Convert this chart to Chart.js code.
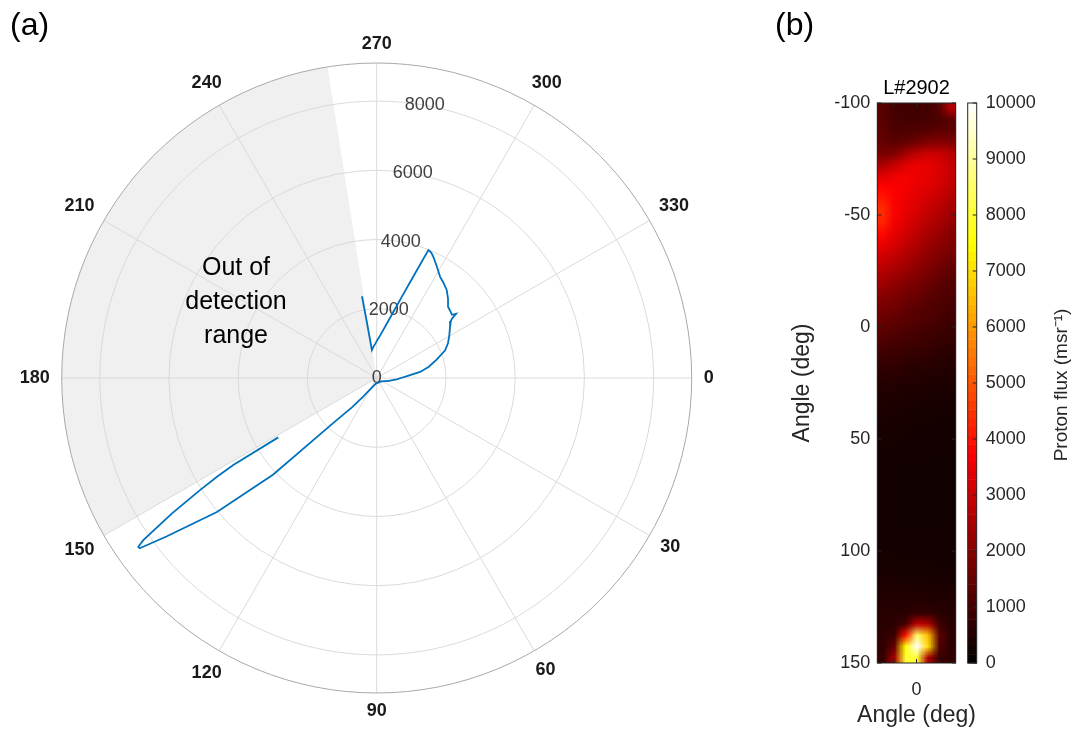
<!DOCTYPE html>
<html>
<head>
<meta charset="utf-8">
<script src="https://cdn.jsdelivr.net/npm/chart.js@4/dist/chart.umd.min.js"></script>
<style>
  body { margin: 0; background: #fff; width: 1076px; height: 729px; overflow: hidden; position: relative; }
  canvas { position: absolute; top: 0; }
  #polare { left: 0; }
  #mappa { left: 760px; }
</style>
</head>
<body>
<canvas id="polare" width="760" height="729"></canvas>
<canvas id="mappa" width="316" height="729"></canvas>
<script>
Chart.defaults.font.family = "'Liberation Sans', Arial, Helvetica, sans-serif";
Chart.defaults.animation = false;

var gradi = Math.PI / 180;
var fontBase = "'Liberation Sans', Arial, Helvetica, sans-serif";

// dati curva polare (a): angolo in gradi, flusso
var angoli = [259.8, 260.0, 260.2, 262, 265, 268, 271, 275, 280, 284, 287, 290, 292, 293.5, 295, 298, 302, 305, 308.5, 312,
  315, 318, 320, 321, 321.8, 322.5, 325, 330, 334, 338, 343, 348, 352, 356, 0, 4, 8, 15, 25, 40,
  55, 70, 85, 100, 115, 122, 126, 130, 134, 137, 140, 143, 144.3, 144.7, 145.2, 146.5, 147.6, 148.3, 148.75, 148.9];
var flusso = [2400, 1650, 820, 860, 930, 1000, 1100, 1250, 1555, 1950, 2420, 3165, 3985, 3950, 3866, 3680, 3453, 3360, 3249, 3080,
  2914, 2870, 2840, 2950, 2760, 2700, 2587, 2420, 2290, 2133, 1810, 1530, 1265, 900, 700, 580, 460, 338, 220, 160,
  150, 140, 150, 170, 280, 450, 677, 1100, 1813, 4098, 6026, 7607, 8428, 8440, 8211, 7100, 6046, 5400, 4847, 3321];

var rMax = 9100;
var anelliR = [2000, 4000, 6000, 8000];
var etichetteR = [0, 2000, 4000, 6000, 8000];
var angoloEtichetteR = 280;
var angoliGriglia = [0, 30, 60, 90, 120, 150, 180, 210, 240, 270, 300, 330];
var zonaCieca = [150, 261];
var testoZona = ["Out of", "detection", "range"];
var posTestoZona = [208.4, 4620];

// dati mappa (b): righe da -100 a 150 gradi (passo 5), colonne da -17.5 a 17.5
var limitiX = [-17.5, 17.5];
var limitiY = [-100, 150];
var colonneAngolo = [-15, -10, -5, 0, 5, 10, 15];
var tickX = [-10, 0, 10];
var maxFlusso = 10000;
var mappaFlusso = [
  [1300, 1000, 950, 950, 1000, 1300, 2600],
  [1300, 1050, 1000, 1000, 1050, 1100, 1300],
  [1400, 1150, 1150, 1200, 1300, 1400, 1400],
  [1500, 1350, 1500, 1700, 1900, 2000, 1900],
  [1800, 1900, 2400, 2800, 3000, 3000, 2700],
  [2500, 2900, 3300, 3500, 3400, 3200, 2900],
  [3300, 3500, 3600, 3500, 3400, 3200, 2900],
  [3800, 3700, 3600, 3400, 3300, 3100, 2800],
  [4100, 3700, 3500, 3300, 3100, 2900, 2600],
  [4400, 3700, 3400, 3200, 2900, 2700, 2400],
  [4300, 3600, 3300, 3000, 2700, 2500, 2200],
  [3900, 3400, 3100, 2800, 2500, 2300, 2000],
  [3500, 3200, 2900, 2600, 2300, 2100, 1900],
  [3100, 2900, 2600, 2400, 2100, 1900, 1700],
  [2800, 2600, 2400, 2100, 1900, 1700, 1500],
  [2500, 2300, 2100, 1900, 1700, 1500, 1300],
  [2200, 2000, 1800, 1700, 1500, 1300, 1200],
  [1900, 1800, 1600, 1500, 1300, 1200, 1100],
  [1700, 1600, 1400, 1300, 1200, 1100, 1000],
  [1500, 1400, 1300, 1200, 1100, 1000, 900],
  [1300, 1200, 1100, 1000, 950, 900, 800],
  [1100, 1000, 950, 900, 850, 750, 700],
  [900, 850, 800, 750, 700, 650, 600],
  [750, 700, 650, 600, 600, 550, 500],
  [600, 600, 550, 500, 500, 450, 450],
  [500, 500, 450, 450, 400, 400, 400],
  [450, 450, 400, 400, 380, 380, 350],
  [400, 400, 380, 350, 350, 330, 330],
  [380, 360, 350, 330, 320, 310, 300],
  [350, 340, 330, 310, 300, 290, 280],
  [330, 320, 300, 290, 280, 270, 270],
  [300, 300, 290, 280, 270, 260, 260],
  [290, 280, 270, 260, 260, 250, 250],
  [280, 270, 260, 250, 250, 250, 250],
  [270, 260, 250, 250, 250, 250, 250],
  [270, 260, 250, 250, 250, 250, 250],
  [270, 260, 260, 250, 250, 250, 250],
  [280, 270, 260, 260, 260, 260, 260],
  [290, 280, 270, 270, 270, 270, 270],
  [300, 290, 290, 280, 280, 280, 280],
  [330, 320, 310, 310, 310, 300, 300],
  [360, 350, 340, 340, 340, 330, 330],
  [400, 390, 380, 380, 380, 370, 360],
  [450, 450, 450, 450, 440, 430, 420],
  [520, 520, 530, 540, 520, 500, 480],
  [580, 590, 620, 700, 700, 600, 540],
  [620, 660, 1000, 2800, 2600, 900, 600],
  [660, 850, 4000, 8500, 6500, 1400, 640],
  [700, 1500, 7500, 10000, 7000, 1200, 680],
  [740, 2500, 8000, 8000, 2500, 850, 700]
];

// mappa di colori "hot"
function caldo(v) {
  var t = Math.max(0, Math.min(1, v / maxFlusso));
  var r = Math.min(1, t / 0.375);
  var g = Math.max(0, Math.min(1, (t - 0.375) / 0.375));
  var b = Math.max(0, Math.min(1, (t - 0.75) / 0.25));
  return [Math.round(r * 255), Math.round(g * 255), Math.round(b * 255)];
}

// ---------- grafico polare (a) ----------

var puntiPolari = angoli.map(function (a, i) {
  return { x: flusso[i] * Math.cos(a * gradi), y: flusso[i] * Math.sin(a * gradi) };
});

var grigliaPolare = {
  id: "grigliaPolare",
  beforeDatasetsDraw: function (chart) {
    var ctx = chart.ctx;
    var sx = chart.scales.x, sy = chart.scales.y;
    var cx = sx.getPixelForValue(0), cy = sy.getPixelForValue(0);
    var raggio = function (v) { return sx.getPixelForValue(v) - cx; };
    var R = raggio(rMax);
    ctx.save();

    // zona fuori dal rivelatore
    ctx.beginPath();
    ctx.moveTo(cx, cy);
    ctx.arc(cx, cy, R, zonaCieca[0] * gradi, zonaCieca[1] * gradi);
    ctx.closePath();
    ctx.fillStyle = "#f0f0f0";
    ctx.fill();

    ctx.strokeStyle = "#dadada";
    ctx.lineWidth = 1;
    anelliR.forEach(function (v) {
      ctx.beginPath();
      ctx.arc(cx, cy, raggio(v), 0, 2 * Math.PI);
      ctx.stroke();
    });
    angoliGriglia.forEach(function (a) {
      ctx.beginPath();
      ctx.moveTo(cx, cy);
      ctx.lineTo(cx + R * Math.cos(a * gradi), cy + R * Math.sin(a * gradi));
      ctx.stroke();
    });
    ctx.strokeStyle = "#a8a8a8";
    ctx.beginPath();
    ctx.arc(cx, cy, R, 0, 2 * Math.PI);
    ctx.stroke();

    // etichette degli angoli
    ctx.font = "bold 18px " + fontBase;
    ctx.fillStyle = "#1a1a1a";
    ctx.textAlign = "center";
    ctx.textBaseline = "middle";
    angoliGriglia.forEach(function (a) {
      var testo = String(a);
      var w = ctx.measureText(testo).width;
      var c = Math.cos(a * gradi), s = Math.sin(a * gradi);
      var d = R + 12 + Math.abs(c) * w / 2 + Math.abs(s) * 6.5;
      ctx.fillText(testo, cx + d * c, cy + d * s);
    });

    // etichette del raggio
    ctx.font = "18px " + fontBase;
    ctx.fillStyle = "#404040";
    etichetteR.forEach(function (v) {
      var r = raggio(v);
      ctx.fillText(String(v), cx + r * Math.cos(angoloEtichetteR * gradi), cy + r * Math.sin(angoloEtichetteR * gradi));
    });

    // scritta zona cieca
    ctx.font = "25px " + fontBase;
    ctx.fillStyle = "#000";
    var rt = raggio(posTestoZona[1]);
    var tx = cx + rt * Math.cos(posTestoZona[0] * gradi);
    var ty = cy + rt * Math.sin(posTestoZona[0] * gradi);
    testoZona.forEach(function (riga, i) {
      ctx.fillText(riga, tx, ty + (i - 1) * 34);
    });

    ctx.restore();
  },
  afterDraw: function (chart) {
    var ctx = chart.ctx;
    ctx.save();
    ctx.font = "32px " + fontBase;
    ctx.fillStyle = "#000";
    ctx.textAlign = "left";
    ctx.textBaseline = "alphabetic";
    ctx.fillText("(a)", 10, 35);
    ctx.restore();
  }
};

var graficoPolare = new Chart(document.getElementById("polare"), {
  type: "scatter",
  data: {
    datasets: [
      {
        data: puntiPolari,
        showLine: true,
        borderColor: "#0072BD",
        borderWidth: 1.8,
        pointRadius: 0,
        tension: 0,
        fill: false
      }
    ]
  },
  options: {
    responsive: false,
    layout: { padding: { left: 61.7, right: 68.3, top: 63, bottom: 36 } },
    plugins: { legend: { display: false }, tooltip: { enabled: false } },
    scales: {
      x: { type: "linear", min: -rMax, max: rMax, display: false },
      y: { type: "linear", min: -rMax, max: rMax, reverse: true, display: false }
    }
  },
  plugins: [grigliaPolare]
});

// ---------- mappa del flusso (b) ----------

var coloreTesto = "#262626";

var mappaCalore = {
  id: "mappaCalore",
  beforeDatasetsDraw: function (chart) {
    var ctx = chart.ctx, sx = chart.scales.x, sy = chart.scales.y;
    var nx = colonneAngolo.length, ny = mappaFlusso.length;
    var img = document.createElement("canvas");
    img.width = nx;
    img.height = ny;
    var ic = img.getContext("2d");
    var pix = ic.createImageData(nx, ny);
    mappaFlusso.forEach(function (riga, j) {
      riga.forEach(function (v, i) {
        var c = caldo(v), k = (j * nx + i) * 4;
        pix.data[k] = c[0];
        pix.data[k + 1] = c[1];
        pix.data[k + 2] = c[2];
        pix.data[k + 3] = 255;
      });
    });
    ic.putImageData(pix, 0, 0);
    var x0 = sx.getPixelForValue(limitiX[0]), x1 = sx.getPixelForValue(limitiX[1]);
    var y0 = sy.getPixelForValue(limitiY[0]), y1 = sy.getPixelForValue(limitiY[1]);
    ctx.save();
    ctx.imageSmoothingEnabled = true;
    ctx.drawImage(img, x0, y0, x1 - x0, y1 - y0);
    ctx.restore();
  },
  afterDraw: function (chart) {
    var ctx = chart.ctx, area = chart.chartArea;
    var sx = chart.scales.x, sy = chart.scales.y, cb = chart.scales.cb;
    ctx.save();

    // cornice e tacche interne
    ctx.strokeStyle = coloreTesto;
    ctx.lineWidth = 1;
    ctx.strokeRect(area.left, area.top, area.right - area.left, area.bottom - area.top);
    ctx.beginPath();
    sy.ticks.forEach(function (t) {
      var y = sy.getPixelForValue(t.value);
      ctx.moveTo(area.left, y); ctx.lineTo(area.left + 4, y);
      ctx.moveTo(area.right, y); ctx.lineTo(area.right - 4, y);
    });
    tickX.forEach(function (v) {
      var x = sx.getPixelForValue(v);
      ctx.moveTo(x, area.top); ctx.lineTo(x, area.top + 4);
      ctx.moveTo(x, area.bottom); ctx.lineTo(x, area.bottom - 4);
    });
    ctx.stroke();

    // barra dei colori
    var bx0 = area.right + 12, bx1 = area.right + 21;
    var passi = 64;
    for (var k = 0; k < passi; k++) {
      var c = caldo((k + 0.5) / passi * maxFlusso);
      var ya = cb.getPixelForValue(k / passi * maxFlusso);
      var yb = cb.getPixelForValue((k + 1) / passi * maxFlusso);
      ctx.fillStyle = "rgb(" + c[0] + "," + c[1] + "," + c[2] + ")";
      ctx.fillRect(bx0, yb, bx1 - bx0, ya - yb + 0.5);
    }
    ctx.strokeRect(bx0, area.top, bx1 - bx0, area.bottom - area.top);
    ctx.beginPath();
    cb.ticks.forEach(function (t) {
      var y = cb.getPixelForValue(t.value);
      ctx.moveTo(bx1, y); ctx.lineTo(bx1 - 4, y);
    });
    ctx.stroke();

    // titolo barra
    ctx.fillStyle = coloreTesto;
    ctx.font = "19px " + fontBase;
    ctx.textAlign = "center";
    ctx.textBaseline = "middle";
    ctx.translate(area.right + 106, (area.top + area.bottom) / 2 + 2);
    ctx.rotate(-Math.PI / 2);
    ctx.fillText("Proton flux (msr\u207B\u00B9)", 0, 0);
    ctx.setTransform(1, 0, 0, 1, 0, 0);

    // titolo asse x
    ctx.font = "23px " + fontBase;
    ctx.fillText("Angle (deg)", (area.left + area.right) / 2, 716);

    // titolo mappa
    ctx.fillStyle = "#000";
    ctx.font = "20px " + fontBase;
    ctx.fillText("L#2902", (area.left + area.right) / 2, area.top - 15);

    ctx.textAlign = "left";
    ctx.textBaseline = "alphabetic";
    ctx.font = "32px " + fontBase;
    ctx.fillText("(b)", 15, 35);
    ctx.restore();
  }
};

var graficoMappa = new Chart(document.getElementById("mappa"), {
  type: "scatter",
  data: { datasets: [{ data: [], pointRadius: 0 }] },
  options: {
    responsive: false,
    layout: { padding: { left: 20, right: 0, top: 103, bottom: 0 } },
    plugins: { legend: { display: false }, tooltip: { enabled: false } },
    scales: {
      x: {
        type: "linear",
        min: limitiX[0],
        max: limitiX[1],
        grid: { display: false, drawTicks: false },
        border: { display: false },
        afterBuildTicks: function (scale) {
          scale.ticks = tickX.map(function (v) { return { value: v }; });
        },
        afterFit: function (scale) { scale.height = 66; },
        ticks: {
          autoSkip: false,
          maxRotation: 0,
          padding: 16,
          color: coloreTesto,
          font: { size: 18 },
          callback: function (v) { return v === 0 ? "0" : ""; }
        }
      },
      y: {
        type: "linear",
        position: "left",
        min: limitiY[0],
        max: limitiY[1],
        reverse: true,
        grid: { display: false, drawTicks: false },
        border: { display: false },
        afterFit: function (scale) { scale.width = 97.3; },
        ticks: { stepSize: 50, padding: 7, color: coloreTesto, font: { size: 18 } },
        title: {
          display: true,
          text: "Angle (deg)",
          color: coloreTesto,
          font: { size: 23 },
          padding: { top: 9, bottom: 0 }
        }
      },
      cb: {
        type: "linear",
        position: "right",
        min: 0,
        max: maxFlusso,
        grid: { display: false, drawTicks: false },
        border: { display: false },
        afterFit: function (scale) { scale.width = 120.3; },
        ticks: {
          stepSize: 1000,
          padding: 30,
          color: coloreTesto,
          font: { size: 18 },
          callback: function (v) { return String(v); }
        }
      }
    }
  },
  plugins: [mappaCalore]
});
</script>
</body>
</html>
